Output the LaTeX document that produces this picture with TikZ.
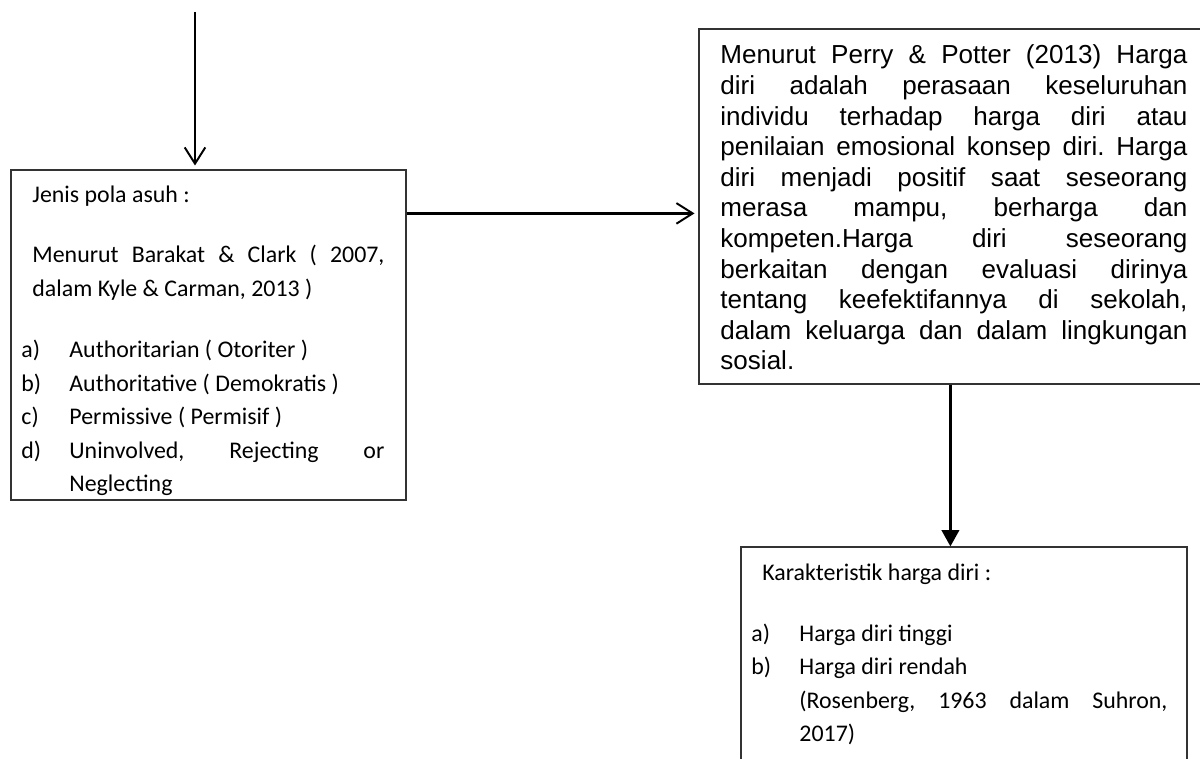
\documentclass[tikz,border=0pt]{standalone}
\usepackage{fontspec}
\setmainfont{Carlito}
\newfontfamily\arialfont{Liberation Sans}
\usetikzlibrary{arrows.meta,positioning,calc,fit}
\newlength\pxu
\setlength\pxu{0.4608pt}
% list entry with hanging label
\newcommand\pitem[2]{\par\hangindent=48\pxu\hangafter=1\noindent\makebox[48\pxu][l]{#1}#2\par}

\begin{document}
\begin{tikzpicture}[x=0.4608pt, y=-0.4608pt,
    boxframe/.style={draw=black!80, line width=0.55pt, inner sep=0pt},
    bodytext/.style={inner sep=0pt, anchor=base west, align=justify,
      execute at begin node={\frenchspacing\tolerance=10000\hyphenpenalty=10000\parindent=0pt\parskip=0pt}},
    calibritext/.style={bodytext, font=\fontsize{11}{15.44}\selectfont},
    arialtext/.style={bodytext, font=\arialfont\fontsize{12}{14.1}\selectfont},
    openarrow/.style={-{Straight Barb[length=7.5pt,width=9.5pt,line width=0.9pt]}, line width=0.9pt, shorten >=1.8pt},
    filledarrow/.style={-{Triangle[length=7.5pt,width=8pt]}, line width=1.2pt}]

% Frame
\useasboundingbox (0,0) rectangle (1200,758);
\clip (0,0) rectangle (1200,758);

% Boxes
\node[boxframe, fit={(11,170) (406,500)}] (pola) {};
\node[boxframe, fit={(699,29) (1206,384)}] (harga) {};
\node[boxframe, fit={(741,547) (1187,780)}] (karak) {};

% Parenting styles
\node[calibritext, text width=167.27pt] (polatext) at (21,203) {%
\hspace*{11\pxu}Jenis pola asuh :\par
\vspace{12.2pt}
{\leftskip=11\pxu Menurut Barakat \& Clark ( 2007,\linebreak dalam Kyle \& Carman, 2013 )\par}
\vspace{12.7pt}
\pitem{a)}{Authoritarian ( Otoriter )}
\pitem{b)}{Authoritative ( Demokratis )}
\pitem{c)}{Permissive ( Permisif )}
\pitem{d)}{Uninvolved, Rejecting or\linebreak Neglecting}};

% Self-esteem definition
\node[arialtext, text width=215.19pt] (hargatext) at (720,64) {%
Menurut Perry \& Potter (2013) Harga\linebreak
diri adalah perasaan keseluruhan\linebreak
individu terhadap harga diri atau\linebreak
penilaian emosional konsep diri. Harga\linebreak
diri menjadi positif saat seseorang\linebreak
merasa mampu, berharga dan\linebreak
kompeten.Harga diri seseorang\linebreak
berkaitan dengan evaluasi dirinya\linebreak
tentang keefektifannya di sekolah,\linebreak
dalam keluarga dan dalam lingkungan\linebreak
sosial.};

% Characteristics
\node[calibritext, text width=191.69pt] (karaktext) at (751,580) {%
\hspace*{11\pxu}Karakteristik harga diri :\par
\vspace{12.7pt}
\pitem{a)}{Harga diri tinggi}
\pitem{b)}{Harga diri rendah}
\pitem{}{(Rosenberg, 1963 dalam Suhron,\linebreak 2017)}};

% Connectors
\coordinate (toparrow) at (195,12);
\draw[openarrow] (toparrow) -- (toparrow |- pola.north);
\coordinate (polaout) at ($(pola.north east)+(0,44)$);
\draw[openarrow, line width=1.3pt] (polaout) -- (polaout -| harga.west);
\coordinate (hargaout) at ($(harga.south west)+(252,0)$);
\draw[filledarrow] (hargaout) -- (hargaout |- karak.north);

\end{tikzpicture}
\end{document}
